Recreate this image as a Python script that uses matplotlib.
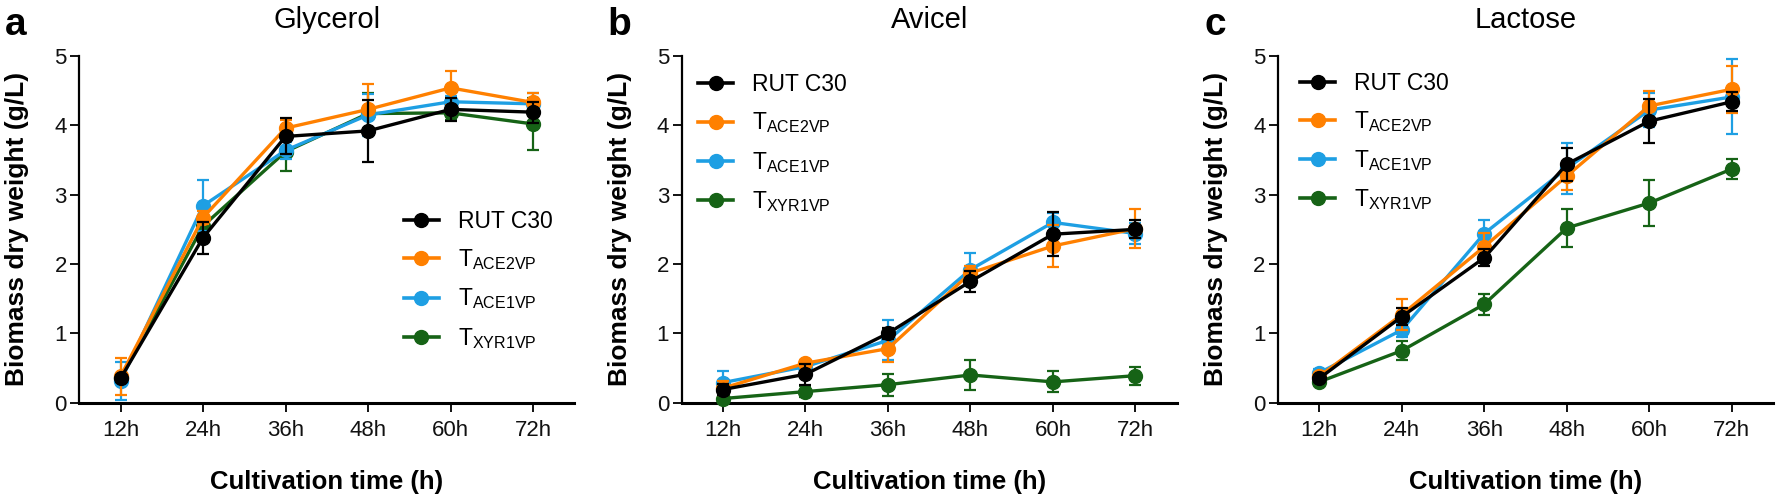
import matplotlib
matplotlib.use("Agg")
import matplotlib.pyplot as plt

plt.rcParams['font.family'] = ['Liberation Sans', 'DejaVu Sans']
plt.rcParams['mathtext.default'] = 'regular'

times = ['12h', '24h', '36h', '48h', '60h', '72h']
labels = ['RUT C30', r'T$_{ACE2VP}$', r'T$_{ACE1VP}$', r'T$_{XYR1VP}$']
colors = ['#000000', '#FF8000', '#1E9FE3', '#166316']

# Glycerol
gly_rut = [0.35, 2.38, 3.84, 3.92, 4.23, 4.19]
gly_rut_err = [0.05, 0.23, 0.26, 0.45, 0.17, 0.15]
gly_ace2 = [0.38, 2.67, 3.96, 4.23, 4.54, 4.33]
gly_ace2_err = [0.27, 0.10, 0.12, 0.37, 0.25, 0.13]
gly_ace1 = [0.31, 2.84, 3.64, 4.15, 4.34, 4.31]
gly_ace1_err = [0.27, 0.37, 0.12, 0.30, 0.08, 0.15]
gly_xyr1 = [0.35, 2.55, 3.62, 4.17, 4.18, 4.02]
gly_xyr1_err = [0.05, 0.10, 0.28, 0.30, 0.10, 0.37]

# Avicel
avi_rut = [0.19, 0.41, 1.00, 1.75, 2.43, 2.50]
avi_rut_err = [0.08, 0.15, 0.08, 0.15, 0.32, 0.13]
avi_ace2 = [0.21, 0.57, 0.78, 1.87, 2.26, 2.51]
avi_ace2_err = [0.10, 0.05, 0.19, 0.10, 0.30, 0.28]
avi_ace1 = [0.29, 0.52, 0.90, 1.92, 2.60, 2.44]
avi_ace1_err = [0.16, 0.05, 0.29, 0.24, 0.14, 0.15]
avi_xyr1 = [0.06, 0.16, 0.26, 0.40, 0.30, 0.39]
avi_xyr1_err = [0.05, 0.08, 0.16, 0.22, 0.15, 0.13]

# Lactose
lac_rut = [0.35, 1.24, 2.09, 3.44, 4.06, 4.34]
lac_rut_err = [0.05, 0.12, 0.12, 0.24, 0.32, 0.14]
lac_ace2 = [0.38, 1.27, 2.25, 3.27, 4.28, 4.52]
lac_ace2_err = [0.05, 0.22, 0.20, 0.20, 0.22, 0.34]
lac_ace1 = [0.43, 1.05, 2.44, 3.38, 4.22, 4.41]
lac_ace1_err = [0.05, 0.10, 0.20, 0.37, 0.25, 0.54]
lac_xyr1 = [0.30, 0.75, 1.42, 2.52, 2.88, 3.37]
lac_xyr1_err = [0.05, 0.14, 0.15, 0.28, 0.33, 0.14]

panels = [
    ('a', 'Glycerol', [gly_rut, gly_ace2, gly_ace1, gly_xyr1],
     [gly_rut_err, gly_ace2_err, gly_ace1_err, gly_xyr1_err]),
    ('b', 'Avicel', [avi_rut, avi_ace2, avi_ace1, avi_xyr1],
     [avi_rut_err, avi_ace2_err, avi_ace1_err, avi_xyr1_err]),
    ('c', 'Lactose', [lac_rut, lac_ace2, lac_ace1, lac_xyr1],
     [lac_rut_err, lac_ace2_err, lac_ace1_err, lac_xyr1_err]),
]

W, H = 1779, 504
fig = plt.figure(figsize=(W / 100, H / 100), dpi=100)

ax_left = [79.3, 681.7, 1278]
ax_w = 495
ax_bottom = 402.7
ax_h = 346.7
legend_pos = [(0.655, 0.555), (0.033, 0.95), (0.045, 0.955)]

x = list(range(len(times)))
for i, (letter, title, series, errs) in enumerate(panels):
    ax = fig.add_axes([ax_left[i] / W, (H - ax_bottom) / H, ax_w / W, ax_h / H])
    # draw green first, black on top
    for k in [3, 2, 1, 0]:
        ax.errorbar(x, series[k], yerr=errs[k], color=colors[k], lw=2.4,
                    marker='o', ms=10, elinewidth=1.6, capsize=4.3,
                    capthick=1.6, zorder=3 + (3 - k), clip_on=False)
    leg_handles = [plt.Line2D([], [], color=colors[k], lw=2.6, marker='o', ms=10)
                   for k in range(4)]
    ax.legend(leg_handles, labels, loc='upper left', bbox_to_anchor=legend_pos[i],
              frameon=False, fontsize=16.5, handlelength=1.53, handletextpad=0.83,
              labelspacing=0.62, borderaxespad=0, borderpad=0)

    ax.set_xlim(-0.5, 5.5)
    ax.set_ylim(0, 5)
    ax.set_xticks(x)
    ax.set_xticklabels(times)
    ax.set_yticks([0, 1, 2, 3, 4, 5])
    for s in ['top', 'right']:
        ax.spines[s].set_visible(False)
    ax.spines['left'].set_linewidth(1.6)
    ax.spines['bottom'].set_linewidth(2.2)
    ax.tick_params(axis='both', labelsize=16, length=6.5, width=1.4, colors='#111111')
    ax.tick_params(axis='y', pad=2.5)
    ax.tick_params(axis='x', pad=6)

    ax.set_ylabel('Biomass dry weight (g/L)', fontsize=19, fontweight='bold', va='center')
    ax.yaxis.set_label_coords(-62 / ax_w, 0.5)
    ax.set_xlabel('Cultivation time (h)', fontsize=18.5, fontweight='bold', va='center')
    ax.xaxis.set_label_coords(0.5, (ax_bottom - 482) / ax_h)
    ax.text(0.5, (ax_bottom - 20) / ax_h, title, transform=ax.transAxes,
            ha='center', va='center', fontsize=21)
    fig.text((ax_left[i] - 74) / W, 1 - 25 / H, letter, ha='left', va='center',
             fontsize=28, fontweight='bold')

fig.savefig('out.png', dpi=100)
